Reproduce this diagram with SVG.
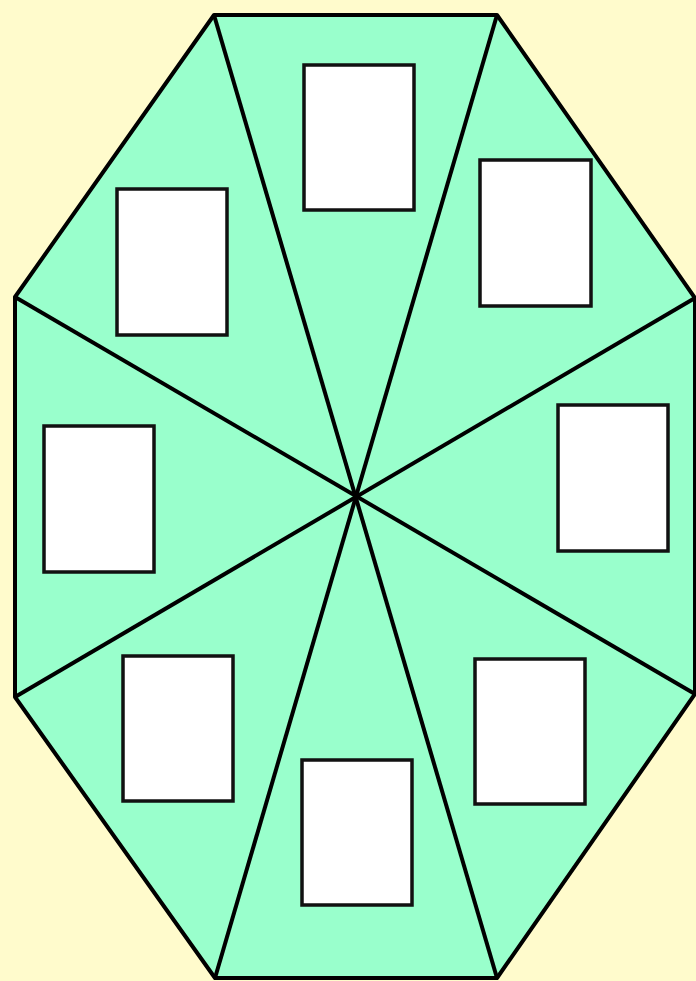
<svg xmlns="http://www.w3.org/2000/svg" width="696" height="981" viewBox="0 0 696 981">
<style>
.tri{fill:#99ffcc;stroke:#000;stroke-width:4;stroke-linejoin:round}
.box{fill:#fff;stroke:#111;stroke-width:3.5}
</style>
<rect width="696" height="981" fill="#fffbcc"/>
<g id="octagon">
<polygon class="tri" points="214,15 497,15 695,298 695,694 497,978 215,978 15,697 15,297"/>
</g>
<g id="connectors" stroke="#000" stroke-width="4" fill="none">
<line x1="214" y1="15" x2="497" y2="978"/>
<line x1="497" y1="15" x2="215" y2="978"/>
<line x1="695" y1="298" x2="15" y2="697"/>
<line x1="695" y1="694" x2="15" y2="297"/>
</g>
<g id="box-top"><rect class="box" x="304" y="65" width="110" height="145"/></g>
<g id="box-topright"><rect class="box" x="480" y="160" width="111" height="146"/></g>
<g id="box-topleft"><rect class="box" x="117" y="189" width="110" height="146"/></g>
<g id="box-left"><rect class="box" x="44" y="426" width="110" height="146"/></g>
<g id="box-right"><rect class="box" x="558" y="405" width="110" height="146"/></g>
<g id="box-bottomleft"><rect class="box" x="123" y="656" width="110" height="145"/></g>
<g id="box-bottom"><rect class="box" x="302" y="760" width="110" height="145"/></g>
<g id="box-bottomright"><rect class="box" x="475" y="659" width="110" height="145"/></g>
</svg>
